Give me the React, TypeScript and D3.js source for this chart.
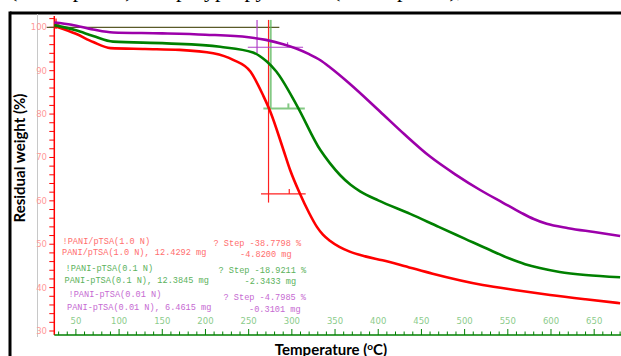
import React from "react";
import * as d3 from "d3";

// TGA curves, temperature (°C) vs residual weight (%)
const temps1 = [25, 50, 70, 90, 130, 170, 209, 232, 252, 267, 275, 290, 298, 309, 320, 329, 336, 344, 355, 367, 385, 405, 430, 463, 521, 560, 599, 640, 680];
const red1 = [100.3, 98.5, 96.6, 95.2, 95.0, 94.8, 94.0, 92.5, 89.8, 84.2, 80.6, 71.9, 67.1, 61.8, 57.2, 54.0, 52.2, 50.8, 49.4, 48.3, 47.2, 46.3, 45.0, 43.2, 40.6, 39.4, 38.3, 37.3, 36.4];

const temps2 = [25, 50, 70, 93, 155, 217, 255, 271, 282, 306, 333, 344, 356, 368, 379, 400, 437, 470, 500, 530, 552, 570, 587, 610, 640, 680];
const green2 = [100.5, 99.3, 98.0, 96.7, 96.3, 95.5, 94.2, 92.1, 89.8, 81.9, 71.7, 68.7, 65.9, 63.7, 62.2, 60.1, 57.0, 54.0, 51.3, 48.6, 46.7, 45.4, 44.5, 43.6, 42.9, 42.4];

const temps3 = [25, 45, 70, 93, 150, 200, 250, 270, 290, 305, 320, 333, 344, 367, 402, 430, 460, 490, 518, 545, 565, 580, 595, 620, 650, 680];
const purple3 = [101.1, 100.6, 99.5, 98.8, 98.6, 98.3, 97.7, 97.1, 96.1, 95.1, 93.8, 92.4, 90.8, 87.0, 80.6, 75.4, 70.2, 66.0, 62.5, 59.5, 57.3, 55.8, 54.7, 53.7, 52.8, 51.9];

const seriesNames = ["1.0 N", "0.1 N", "0.01 N"];
const seriesColors = ["#ff0000", "#008000", "#9c00aa"];
const lineColors = ["#ff2020", "#5cb85c", "#b040c8"];
const textColors = ["#ff6e6e", "#5cb25c", "#c66ad2"];

// step analysis markers: vertical line temp, bottom value, horizontal level, horizontal span
const stepTemps = [273, 275.5, 259.7];
const stepBottoms = [59.6, 81.3, 94.1];
const stepLevels = [61.6, 81.3, 95.4];
const stepFrom = [264.3, 267, 249];
const stepTo = [316, 315, 313];
const stepHits = [297, 296, 295];

const legendTop = ["!PANI/pTSA(1.0 N)", "!PANI-pTSA(0.1 N)", "!PANI-pTSA(0.01 N)"];
const legendBottom = ["PANI/pTSA(1.0 N), 12.4292 mg", "PANI-pTSA(0.1 N), 12.3845 mg", "PANI-pTSA(0.01 N), 6.4615 mg"];
const stepPercent = ["? Step -38.7798 %", "? Step -18.9211 %", "? Step -4.7985 %"];
const stepMass = ["-4.8200 mg", "-2.3433 mg", "-0.3101 mg"];

const yMajor = [30, 40, 50, 60, 70, 80, 90, 100];
const xMajor = [50, 100, 150, 200, 250, 300, 350, 400, 450, 500, 550, 600, 650];

export default function App() {
  const x = d3.scaleLinear().domain([25, 680]).range([54.3, 620.1]);
  const y = d3.scaleLinear().domain([30, 100]).range([331, 27.3]);
  const axisY = 335;

  const line = d3
    .line<[number, number]>()
    .x((d) => x(d[0]))
    .y((d) => y(d[1]))
    .curve(d3.curveMonotoneX);

  const series = [
    temps1.map((t, i) => [t, red1[i]] as [number, number]),
    temps2.map((t, i) => [t, green2[i]] as [number, number]),
    temps3.map((t, i) => [t, purple3[i]] as [number, number]),
  ];

  const yMinor = d3.range(30, 103, 2);
  const xMinor = d3.range(30, 681, 10);
  const mono = "'Liberation Mono', 'DejaVu Sans Mono', monospace";

  return (
    <svg
      width={621}
      height={356}
      style={{ position: "absolute", left: 0, top: 0, background: "#fff" }}
    >
      {/* cut-off caption line from above */}
      <g fontFamily="'Liberation Serif', serif" fontSize={22} fill="#000">
        <text x={10} y={-3}>(PANI/pTSA) and</text>
        <text x={176} y={-3}>polypropylene</text>
        <text x={333} y={-3}>(PANI-pTSA),</text>
      </g>

      {/* frame */}
      <line x1={10} x2={621} y1={13} y2={13} stroke="#000" strokeWidth={3} />
      <line x1={10} x2={10} y1={11.5} y2={356} stroke="#000" strokeWidth={3} />
      <line x1={37.5} x2={37.5} y1={14} y2={337} stroke="#c8c8c8" strokeWidth={1} />

      {/* y axis */}
      <line x1={x(25)} x2={x(25)} y1={16} y2={axisY} stroke="#ff0000" strokeWidth={1.5} />
      {yMinor.map((v) => (
        <line key={v} x1={x(25) - 5} x2={x(25)} y1={y(v)} y2={y(v)} stroke="#ff0000" strokeWidth={1} />
      ))}
      {yMajor.map((v) => (
        <text
          key={v}
          x={47}
          y={y(v) + 3}
          textAnchor="end"
          fontFamily="'DejaVu Sans', sans-serif"
          fontSize={8.5}
          fill="#ff9a9a"
        >
          {v}
        </text>
      ))}

      {/* x axis */}
      <line x1={x(25)} x2={621} y1={axisY} y2={axisY} stroke="#008000" strokeWidth={1.5} />
      {xMinor.map((v) => (
        <line
          key={v}
          x1={x(v)}
          x2={x(v)}
          y1={axisY}
          y2={axisY - (v % 50 === 0 ? 6 : 3.5)}
          stroke="#008000"
          strokeWidth={1}
        />
      ))}
      {xMajor.map((v) => (
        <text
          key={v}
          x={x(v)}
          y={324}
          textAnchor="middle"
          fontFamily="'DejaVu Sans', sans-serif"
          fontSize={8.5}
          fill="#8ccc8c"
        >
          {v}
        </text>
      ))}

      {/* baseline at 100 % */}
      <line x1={x(16.2)} x2={x(285.5)} y1={y(100)} y2={y(100)} stroke="#5a5a28" strokeWidth={1.2} />

      {/* step markers */}
      {stepTemps.map((t, i) => (
        <g key={i} stroke={lineColors[i]} strokeWidth={i === 1 ? 2 : 1.2} opacity={i === 1 ? 0.75 : 1}>
          <line x1={x(t)} x2={x(t)} y1={y(101.7)} y2={y(stepBottoms[i])} />
          <line x1={x(stepFrom[i])} x2={x(stepTo[i])} y1={y(stepLevels[i])} y2={y(stepLevels[i])} />
          <line x1={x(stepHits[i])} x2={x(stepHits[i])} y1={y(stepLevels[i])} y2={y(stepLevels[i]) - 5} />
        </g>
      ))}

      {/* start marker */}
      <path
        d={`M${x(27)},${y(102)} L${x(27)},${y(99.6)} M${x(27)},${y(100.7)} L${x(31)},${y(100.7)}`}
        stroke="#ff0000"
        strokeWidth={1.2}
        fill="none"
      />

      {/* curves */}
      {series.map((s, i) => (
        <path
          key={seriesNames[i]}
          d={line(s) ?? ""}
          fill="none"
          stroke={seriesColors[i]}
          strokeWidth={2.6}
        />
      ))}

      {/* legend texts */}
      <g fontFamily={mono} fontSize={8.6}>
        {legendTop.map((s, i) => (
          <g key={s} fill={textColors[i]}>
            <text x={62.5 + i * 3} y={244 + i * 26.5}>{s}</text>
            <text x={62 + i * 2.5} y={255 + i * 27.5}>{legendBottom[i]}</text>
            <text x={213.5 + i * 5} y={245.5 + i * 27}>{stepPercent[i]}</text>
            <text x={240 + i * 4.5} y={256.5 + i * 27.5}>{stepMass[i]}</text>
          </g>
        ))}
      </g>

      {/* axis titles */}
      <text
        transform="translate(25,158) rotate(-90)"
        textAnchor="middle"
        fontFamily="Lato, 'Liberation Sans', sans-serif"
        fontWeight="bold"
        fontSize={15}
        fill="#000"
      >
        Residual weight (%)
      </text>
      <text
        x={331}
        y={355}
        textAnchor="middle"
        fontFamily="Lato, 'Liberation Sans', sans-serif"
        fontWeight="bold"
        fontSize={15}
        fill="#000"
      >
        Temperature (
        <tspan fontSize={10} dy={-5}>o</tspan>
        <tspan dy={5}>C)</tspan>
      </text>
    </svg>
  );
}
